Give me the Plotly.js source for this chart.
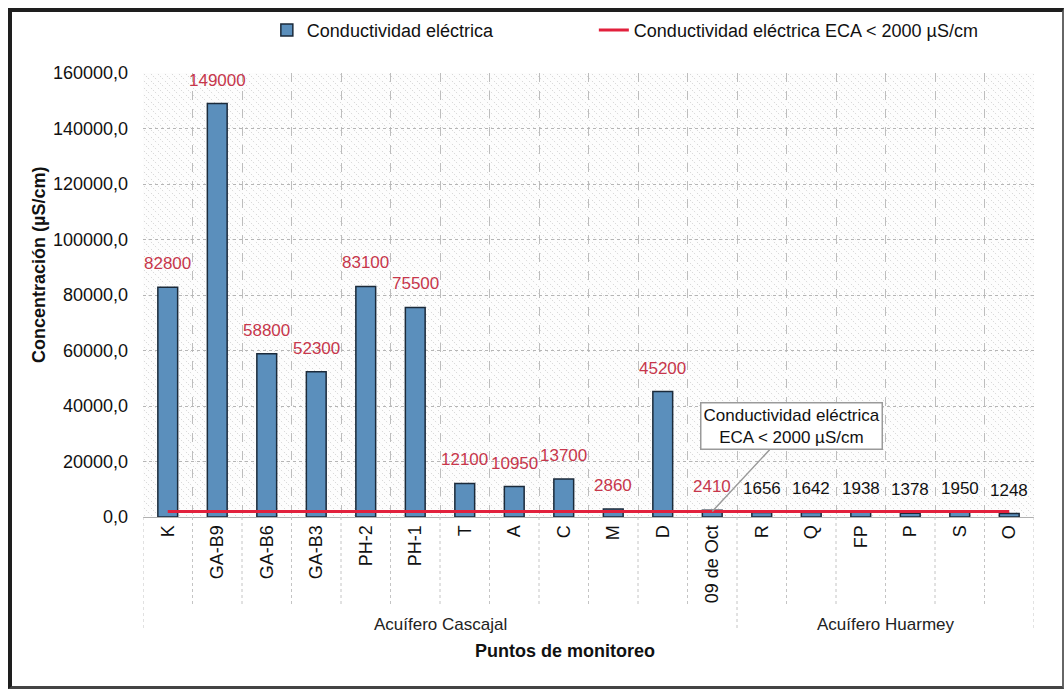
<!DOCTYPE html>
<html>
<head>
<meta charset="utf-8">
<script src="https://cdn.plot.ly/plotly-3.0.1.min.js"></script>
<style>
  html, body { margin: 0; padding: 0; background: #ffffff; }
  #wrap { position: relative; width: 1064px; height: 689px; }
  #chart { position: absolute; left: 0; top: 0; width: 1064px; height: 689px; }
  #frame { position: absolute; left: 8px; top: 8px; width: 1050px; height: 674px;
           border-top: 4px solid #1e1e1e; border-left: 4px solid #1e1e1e;
           border-right: 2px solid #666; border-bottom: 3px solid #444; pointer-events: none; }
</style>
</head>
<body>
<div id="wrap">
  <div id="chart"></div>
  <div id="frame"></div>
</div>
<script>
// ---- data ----
const categories = ["K","GA-B9","GA-B6","GA-B3","PH-2","PH-1","T","A","C","M","D","09 de Oct","R","Q","FP","P","S","O"];
const groups = ["Acuífero Cascajal","Acuífero Cascajal","Acuífero Cascajal","Acuífero Cascajal","Acuífero Cascajal","Acuífero Cascajal","Acuífero Cascajal","Acuífero Cascajal","Acuífero Cascajal","Acuífero Cascajal","Acuífero Cascajal","Acuífero Cascajal","Acuífero Huarmey","Acuífero Huarmey","Acuífero Huarmey","Acuífero Huarmey","Acuífero Huarmey","Acuífero Huarmey"];
const conductividad = [82800,149000,58800,52300,83100,75500,12100,10950,13700,2860,45200,2410,1656,1642,1938,1378,1950,1248];
const valueLabels = ["82800","149000","58800","52300","83100","75500","12100","10950","13700","2860","45200","2410","1656","1642","1938","1378","1950","1248"];
const ecaLimit = [2000,2000,2000,2000,2000,2000,2000,2000,2000,2000,2000,2000,2000,2000,2000,2000,2000,2000];
const yTickVals = [0,20000,40000,60000,80000,100000,120000,140000,160000];
const seriesNames = ["Conductividad eléctrica","Conductividad eléctrica ECA < 2000 µS/cm"];

const FONT = "Liberation Sans, Arial, sans-serif";
const labelColors = groups.map(g => g === "Acuífero Cascajal" ? "#c7364b" : "#111111");

const traces = [
  {
    type: "bar", x: categories, y: conductividad, name: seriesNames[0], legend: "legend",
    marker: { color: "#5b8fbc", line: { color: "#1b2a3a", width: 1.5 } },
    hoverinfo: "x+y"
  },
  {
    type: "scatter", mode: "lines", x: categories, y: ecaLimit, name: seriesNames[1], legend: "legend2",
    line: { color: "#e2203c", width: 3 }
  }
];

// boundary lines below the axis
const shapes = [];
for (let i = 0; i <= categories.length; i++) {
  const isLong = (i === 0 || i === categories.length || (i > 0 && groups[i] !== groups[i-1]));
  shapes.push({ type: "line", xref: "x", yref: "paper", x0: i - 0.5, x1: i - 0.5,
    y0: 0, y1: isLong ? -0.255 : -0.2, line: { color: "#c4c4c4", width: 1, dash: "dot" } });
}

// value labels
const annotations = categories.map((c, i) => ({
  x: c, y: conductividad[i], xref: "x", yref: "y", text: valueLabels[i], showarrow: false,
  yanchor: "bottom", yshift: 12, font: { family: FONT, size: 17, color: labelColors[i] }
}));

// group labels
const groupNames = [...new Set(groups)];
groupNames.forEach(g => {
  const idx = groups.map((v, i) => v === g ? i : -1).filter(i => i >= 0);
  const mid = (idx[0] + idx[idx.length - 1]) / 2;
  annotations.push({ x: mid, y: -0.243, xref: "x", yref: "paper", text: g, showarrow: false,
    font: { family: FONT, size: 17, color: "#222" }, xanchor: "center", yanchor: "middle" });
});

annotations.push({
  x: "09 de Oct", y: ecaLimit[11], xref: "x", yref: "y",
  text: "Conductividad eléctrica<br>ECA < 2000 µS/cm",
  showarrow: true, arrowhead: 0, arrowwidth: 1.5, arrowcolor: "#9a9a9a",
  ax: 79, ay: -85, bgcolor: "#ffffff", bordercolor: "#9a9a9a", borderwidth: 1.5, borderpad: 2,
  font: { family: FONT, size: 17, color: "#111" }
});
annotations.push({
  x: 0.474, y: -0.329, xref: "paper", yref: "paper", text: "<b>Puntos de monitoreo</b>",
  showarrow: false, font: { family: FONT, size: 18, color: "#111" }
});
annotations.push({
  x: -0.13, y: 0.568, xref: "paper", yref: "paper", text: "<b>Concentración (µS/cm)</b>",
  showarrow: false, textangle: -90, font: { family: FONT, size: 18, color: "#111" }
});

const hatchSvg = "<svg xmlns='http://www.w3.org/2000/svg' width='891' height='444'>" +
  "<defs><pattern id='p' width='7' height='7' patternUnits='userSpaceOnUse'>" +
  "<rect width='7' height='7' fill='#fdfdfd'/>" +
  "<path d='M-1,-1 L8,8' stroke='#d2d2d2' stroke-width='1' stroke-dasharray='1.2,1.6'/>" +
  "</pattern></defs><rect width='891' height='444' fill='url(#p)'/></svg>";

const legendCommon = { orientation: "h", xref: "paper", y: 0.956, yref: "container",
  xanchor: "left", yanchor: "middle", font: { family: FONT, size: 18, color: "#111" },
  bgcolor: "rgba(0,0,0,0)" };

const layout = {
  width: 1064, height: 689,
  margin: { l: 143, r: 30, t: 73, b: 172 },
  paper_bgcolor: "#ffffff", plot_bgcolor: "#f7f7f7",
  separators: ",.",
  font: { family: FONT, size: 15, color: "#111" },
  showlegend: true,
  legend: Object.assign({}, legendCommon, { x: 0.139 }),
  legend2: Object.assign({}, legendCommon, { x: 0.506 }),
  bargap: 0.6,
  xaxis: {
    type: "category", tickangle: -90, tickson: "boundaries", ticks: "",
    showgrid: true, gridcolor: "#bdbdbd", griddash: "dash", gridwidth: 1,
    showline: true, linecolor: "#b0b0b0", linewidth: 1,
    tickfont: { family: FONT, size: 18, color: "#111" },
    range: [-0.5, categories.length - 0.5]
  },
  yaxis: {
    range: [0, 160000], tickvals: yTickVals, tickformat: ".1f",
    showgrid: true, gridcolor: "#b5b5b5", griddash: "dot", gridwidth: 1,
    zeroline: false, ticks: "", ticklabelstandoff: 14,
    tickfont: { family: FONT, size: 18, color: "#111" }
  },
  images: [{
    source: "data:image/svg+xml;charset=utf-8," + encodeURIComponent(hatchSvg),
    xref: "paper", yref: "paper", x: 0, y: 1, sizex: 1, sizey: 1,
    sizing: "stretch", layer: "below", xanchor: "left", yanchor: "top"
  }],
  shapes: shapes,
  annotations: annotations
};

Plotly.newPlot("chart", traces, layout, { displayModeBar: false, staticPlot: true });
</script>
</body>
</html>
